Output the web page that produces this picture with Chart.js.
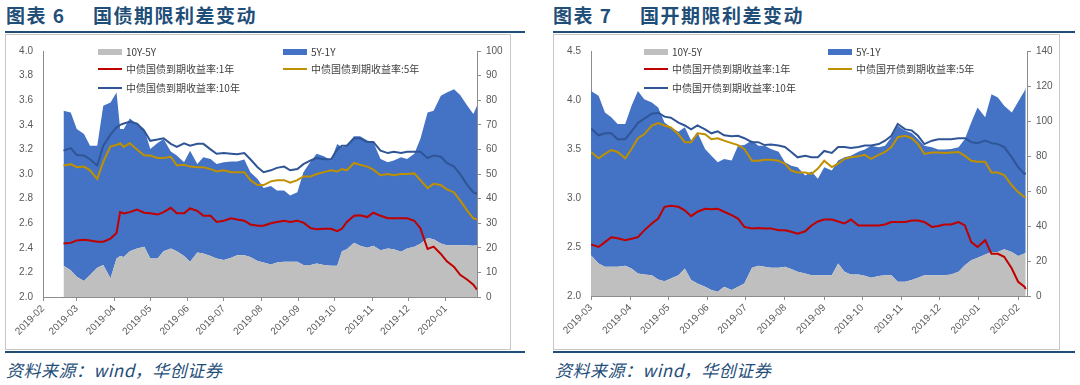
<!DOCTYPE html>
<html>
<head>
<meta charset="utf-8">
<script src="https://cdn.jsdelivr.net/npm/chart.js@4.4.1/dist/chart.umd.min.js"></script>
<style>
  html, body { margin: 0; padding: 0; background: #fff; }
  body { width: 1080px; height: 385px; position: relative; overflow: hidden;
         font-family: "Noto Sans CJK SC", sans-serif; }
  .title { position: absolute; top: 3px; font-size: 19px; font-weight: 700; color: #1F4E79;
           letter-spacing: 1.5px; white-space: nowrap; line-height: 24px; }
  .rule { position: absolute; height: 2px; background: #1F4E79; }
  .frame { position: absolute; border: 1px solid #C8C8C8; box-sizing: border-box; }
  canvas { position: absolute; }
  .lg { position: absolute; font-size: 10px; color: #404040; white-space: nowrap; line-height: 12px; }
  .sym { position: absolute; }
  .source { position: absolute; top: 357px; font-size: 17px; font-style: italic; color: #1F4E79;
            white-space: nowrap; letter-spacing: 0.5px; }
</style>
</head>
<body>

<div class="title" style="left:6px;">图表 6</div>
<div class="title" style="left:93px;">国债期限利差变动</div>
<div class="rule" style="left:5px; width:520px; top:31px;"></div>
<div class="frame" style="left:5px; top:34px; width:506px; height:316px;"></div>
<canvas id="chart-cgb" width="503" height="313" style="left:6px; top:35px;"></canvas>
<div class="rule" style="left:5px; width:520px; top:351px;"></div>
<div class="source" style="left:6px;">资料来源：wind，华创证券</div>

<div class="title" style="left:553px;">图表 7</div>
<div class="title" style="left:640px;">国开期限利差变动</div>
<div class="rule" style="left:553px; width:522px; top:31px;"></div>
<div class="frame" style="left:553px; top:34px; width:507px; height:316px;"></div>
<canvas id="chart-cdb" width="504" height="313" style="left:554px; top:35px;"></canvas>
<div class="rule" style="left:553px; width:522px; top:351px;"></div>
<div class="source" style="left:555px;">资料来源：wind，华创证券</div>

<div id="legends"></div>

<script>
// ─── Colours (Excel default palette) ───────────────────────────────────────
const GRAY = "#BFBFBF";
const BLUE = "#4472C4";
const RED = "#C00000";
const GOLD = "#BF9000";
const NAVY = "#2F5597";
const AXIS = "#8C8C8C";
const TICK_TEXT = "#595959";

// ─── 图表6 国债 ────────────────────────────────────────────────────────────
const cgbDates = [
  "2019-02-18","2019-02-24","2019-03-01","2019-03-07","2019-03-12","2019-03-18","2019-03-23","2019-03-29",
  "2019-04-03","2019-04-06","2019-04-09","2019-04-14","2019-04-20","2019-04-26","2019-05-01","2019-05-07",
  "2019-05-12","2019-05-18","2019-05-23","2019-05-29","2019-06-03","2019-06-09","2019-06-14","2019-06-20",
  "2019-06-25","2019-07-01","2019-07-07","2019-07-12","2019-07-18","2019-07-23","2019-07-29","2019-08-03",
  "2019-08-09","2019-08-14","2019-08-20","2019-08-25","2019-08-31","2019-09-05","2019-09-11","2019-09-16",
  "2019-09-22","2019-09-28","2019-10-03","2019-10-07","2019-10-11","2019-10-17","2019-10-22","2019-10-28",
  "2019-11-02","2019-11-08","2019-11-14","2019-11-19","2019-11-25","2019-11-30","2019-12-06","2019-12-11",
  "2019-12-17","2019-12-22","2019-12-28","2020-01-02","2020-01-08","2020-01-13","2020-01-19","2020-01-24",
  "2020-01-27"
];
const cgb10y = [
  3.19, 3.21, 3.155, 3.15, 3.12, 3.07, 3.23, 3.32, 3.38, 3.40, 3.41, 3.425, 3.41, 3.35, 3.27, 3.28,
  3.29, 3.245, 3.22, 3.25, 3.23, 3.245, 3.245, 3.20, 3.165, 3.17, 3.165, 3.16, 3.17, 3.12, 3.055, 3.015,
  3.03, 3.05, 3.06, 3.03, 3.04, 3.08, 3.11, 3.13, 3.12, 3.12, 3.20, 3.23, 3.23, 3.29, 3.29, 3.26,
  3.26, 3.19, 3.17, 3.18, 3.17, 3.18, 3.18, 3.18, 3.13, 3.15, 3.14, 3.09, 3.06, 3.00, 2.91, 2.85,
  2.84
];
const cgb5y = [
  3.07, 3.08, 3.055, 3.06, 3.03, 2.96, 3.10, 3.225, 3.235, 3.25, 3.22, 3.25, 3.20, 3.15, 3.15, 3.13,
  3.13, 3.14, 3.07, 3.075, 3.06, 3.055, 3.055, 3.04, 3.02, 3.03, 3.015, 3.015, 3.015, 2.95, 2.91, 2.91,
  2.94, 2.95, 2.95, 2.93, 2.95, 2.98, 2.98, 3.00, 3.015, 3.03, 3.02, 3.04, 3.03, 3.09, 3.075, 3.06,
  3.035, 2.99, 3.00, 2.99, 3.00, 3.00, 3.005, 2.95, 2.885, 2.92, 2.91, 2.875, 2.85, 2.785, 2.70, 2.64,
  2.63
];
const cgb1y = [
  2.435, 2.44, 2.46, 2.465, 2.46, 2.45, 2.45, 2.475, 2.52, 2.69, 2.68, 2.69, 2.71, 2.685, 2.68, 2.67,
  2.69, 2.725, 2.68, 2.68, 2.72, 2.70, 2.66, 2.66, 2.61, 2.62, 2.64, 2.63, 2.62, 2.59, 2.58, 2.58,
  2.60, 2.61, 2.62, 2.61, 2.62, 2.605, 2.56, 2.55, 2.555, 2.555, 2.535, 2.555, 2.61, 2.66, 2.665, 2.65,
  2.685, 2.66, 2.64, 2.64, 2.64, 2.64, 2.62, 2.56, 2.39, 2.41, 2.35, 2.29, 2.245, 2.18, 2.14, 2.10,
  2.06
];
const cgbSpread10y5y = [
  12.7, 10.9, 8.2, 6.5, 8.9, 11.9, 13.0, 7.6, 15.7, 16.7, 16.3, 18.6, 19.7, 20.4, 15.7, 15.7,
  18.6, 19.7, 18.6, 16.7, 14.3, 18.1, 17.7, 16.7, 15.7, 15.0, 16.0, 17.0, 17.0, 16.3, 14.6, 14.0,
  13.2, 14.0, 14.3, 14.3, 14.3, 13.0, 13.0, 13.6, 13.0, 12.7, 12.7, 18.6, 19.4, 22.1, 20.8, 20.0,
  20.8, 19.0, 19.7, 19.4, 18.4, 19.7, 20.4, 21.6, 24.0, 23.5, 21.7, 21.0, 21.0, 21.0, 21.0, 20.8,
  21.0
];
const cgbSpread5y1y = [
  63.0, 64.1, 60.1, 59.8, 52.6, 49.6, 64.7, 71.5, 67.4, 51.6, 52.0, 54.0, 50.6, 47.9, 44.5, 46.9,
  45.6, 39.4, 38.9, 38.1, 45.2, 36.0, 39.1, 39.4, 38.4, 39.8, 39.1, 38.1, 38.9, 34.4, 33.4, 30.3,
  31.9, 29.3, 29.0, 27.0, 28.3, 37.7, 42.1, 44.6, 44.2, 42.8, 49.5, 42.3, 42.1, 43.2, 44.5, 43.6,
  42.1, 37.1, 35.1, 36.1, 38.4, 36.4, 37.8, 42.6, 51.0, 52.2, 60.1, 62.1, 63.5, 61.1, 56.7, 53.6,
  56.7
];

// ─── 图表7 国开 ────────────────────────────────────────────────────────────
const cdbDates = [
  "2019-03-01","2019-03-07","2019-03-12","2019-03-17","2019-03-22","2019-03-28","2019-04-02","2019-04-07",
  "2019-04-12","2019-04-18","2019-04-23","2019-04-28","2019-05-03","2019-05-09","2019-05-14","2019-05-19",
  "2019-05-24","2019-05-30","2019-06-04","2019-06-09","2019-06-14","2019-06-20","2019-06-25","2019-06-30",
  "2019-07-06","2019-07-11","2019-07-16","2019-07-21","2019-07-27","2019-08-01","2019-08-06","2019-08-11",
  "2019-08-17","2019-08-22","2019-08-27","2019-09-01","2019-09-07","2019-09-12","2019-09-17","2019-09-22",
  "2019-09-28","2019-10-03","2019-10-08","2019-10-14","2019-10-19","2019-10-24","2019-10-29","2019-11-04",
  "2019-11-09","2019-11-14","2019-11-19","2019-11-25","2019-11-30","2019-12-05","2019-12-10","2019-12-16",
  "2019-12-21","2019-12-26","2019-12-31","2020-01-06","2020-01-11","2020-01-16","2020-01-21","2020-01-27",
  "2020-02-01","2020-02-06","2020-02-07"
];
const cdb10y = [
  3.71, 3.64, 3.66, 3.66, 3.60, 3.60, 3.68, 3.765, 3.81, 3.86, 3.87, 3.83, 3.82, 3.77, 3.74, 3.70,
  3.74, 3.70, 3.66, 3.68, 3.64, 3.63, 3.635, 3.61, 3.57, 3.57, 3.54, 3.545, 3.535, 3.52, 3.47, 3.415,
  3.43, 3.415, 3.415, 3.48, 3.46, 3.52, 3.52, 3.51, 3.52, 3.535, 3.535, 3.55, 3.585, 3.635, 3.755, 3.70,
  3.69, 3.635, 3.55, 3.585, 3.60, 3.60, 3.60, 3.61, 3.61, 3.57, 3.56, 3.585, 3.56, 3.55, 3.52, 3.415,
  3.315, 3.245, 3.255
];
const cdb5y = [
  3.47, 3.405, 3.45, 3.49, 3.47, 3.405, 3.50, 3.61, 3.65, 3.74, 3.765, 3.74, 3.72, 3.65, 3.57, 3.57,
  3.66, 3.65, 3.60, 3.61, 3.585, 3.56, 3.54, 3.50, 3.38, 3.38, 3.39, 3.39, 3.38, 3.35, 3.28, 3.26,
  3.26, 3.245, 3.30, 3.38, 3.315, 3.35, 3.40, 3.415, 3.425, 3.44, 3.40, 3.44, 3.47, 3.52, 3.62, 3.635,
  3.61, 3.55, 3.45, 3.465, 3.465, 3.46, 3.465, 3.47, 3.43, 3.38, 3.37, 3.37, 3.26, 3.26, 3.235, 3.13,
  3.06, 3.01, 3.01
];
const cdb1y = [
  2.525, 2.50, 2.55, 2.60, 2.59, 2.57, 2.585, 2.60, 2.67, 2.74, 2.79, 2.91, 2.92, 2.91, 2.875, 2.815,
  2.86, 2.89, 2.885, 2.89, 2.86, 2.825, 2.79, 2.705, 2.69, 2.695, 2.69, 2.69, 2.67, 2.67, 2.655, 2.635,
  2.66, 2.72, 2.76, 2.78, 2.78, 2.76, 2.74, 2.78, 2.72, 2.72, 2.72, 2.72, 2.73, 2.755, 2.755, 2.755,
  2.77, 2.77, 2.755, 2.705, 2.715, 2.73, 2.73, 2.755, 2.72, 2.55, 2.50, 2.57, 2.43, 2.43, 2.40, 2.28,
  2.145, 2.095, 2.07
];
const cdbSpread10y5y = [
  23.3, 18.6, 16.7, 16.7, 16.7, 17.3, 15.7, 12.9, 12.3, 11.9, 9.5, 8.5, 10.0, 11.9, 15.7, 9.1,
  7.2, 5.3, 3.4, 2.5, 5.3, 3.4, 5.3, 7.2, 16.1, 17.3, 16.7, 16.1, 16.1, 16.7, 15.4, 13.8,
  12.9, 11.9, 11.9, 11.9, 11.9, 18.6, 13.8, 12.3, 12.3, 11.6, 10.4, 11.4, 11.9, 11.9, 8.1, 8.1,
  9.1, 10.4, 11.9, 11.9, 11.9, 11.9, 12.3, 13.8, 17.6, 20.5, 21.8, 23.7, 25.2, 25.2, 26.7, 25.2,
  22.9, 24.3, 24.8
];
const cdbSpread5y1y = [
  93.9, 95.8, 88.2, 85.4, 81.6, 81.0, 93.0, 104.3, 100.2, 98.7, 98.2, 90.7, 86.4, 82.0, 80.7, 79.7,
  86.3, 78.7, 76.8, 73.9, 73.0, 74.0, 80.6, 79.1, 72.7, 68.6, 69.2, 67.9, 66.4, 59.7, 59.1, 59.8,
  56.0, 59.2, 55.1, 61.7, 59.8, 58.8, 65.5, 67.9, 70.2, 72.1, 75.5, 73.6, 74.0, 78.8, 89.2, 86.4,
  84.0, 79.3, 74.0, 73.1, 71.8, 71.8, 71.7, 71.2, 72.1, 78.7, 85.9, 78.4, 90.1, 88.2, 82.0, 79.7,
  88.1, 92.9, 94.3
];

// ─── Date helpers: x axis is in days since epoch, ticks on month starts ─────
const DAY = 86400000;
const toDay = (s) => {
  const [y, m, d] = s.split("-").map(Number);
  return Date.UTC(y, m - 1, d) / DAY;
};
function monthTicks(min, max) {
  const first = new Date(min * DAY);
  let y = first.getUTCFullYear();
  let m = first.getUTCMonth() + (first.getUTCDate() === 1 ? 0 : 1);
  const out = [];
  for (;;) {
    const v = Date.UTC(y, m, 1) / DAY;
    if (v > max + 0.01) break;
    out.push({ value: v });
    m++;
  }
  return out;
}
const monthLabel = (v) => {
  const d = new Date(v * DAY);
  return d.getUTCFullYear() + "-" + String(d.getUTCMonth() + 1).padStart(2, "0");
};

const TICK_FONT = { family: '"Liberation Sans", Arial, sans-serif', size: 10 };

function renderSpreadChart(id, cfg) {
  const pts = (vals) => cfg.dates.map((s, i) => ({ x: toDay(s), y: vals[i] }));
  const line = (label, vals, color) => ({
    label, data: pts(vals), yAxisID: "y", borderColor: color, backgroundColor: color,
    borderWidth: 2, fill: false, order: 0,
  });
  new Chart(document.getElementById(id), {
    type: "line",
    data: {
      datasets: [
        { label: "10Y-5Y", data: pts(cfg.s105), yAxisID: "y1", backgroundColor: GRAY,
          borderWidth: 0, fill: "origin", order: 2 },
        { label: "5Y-1Y", data: pts(cfg.s51), yAxisID: "y1", backgroundColor: BLUE,
          borderWidth: 0, fill: "-1", order: 2 },
        line(cfg.names[0], cfg.y1, RED),
        line(cfg.names[1], cfg.y5, GOLD),
        line(cfg.names[2], cfg.y10, NAVY),
      ],
    },
    options: {
      responsive: false, animation: false, events: [], devicePixelRatio: 1,
      layout: { padding: { top: 15, left: 0, right: 0, bottom: 0 } },
      elements: { point: { radius: 0 }, line: { tension: 0 } },
      plugins: { legend: { display: false }, tooltip: { enabled: false } },
      scales: {
        x: {
          type: "linear", bounds: "data",
          min: toDay(cfg.xMin), max: toDay(cfg.xMax),
          afterBuildTicks: (s) => { s.ticks = monthTicks(s.min, s.max); },
          afterFit: (s) => { s.height = cfg.xHeight; },
          grid: { drawOnChartArea: false, drawTicks: true, tickLength: 4, color: AXIS },
          border: { color: AXIS },
          ticks: { autoSkip: false, minRotation: 45, maxRotation: 45, padding: 2,
                   font: TICK_FONT, color: TICK_TEXT, callback: monthLabel },
        },
        y: {
          position: "left", min: cfg.leftMin, max: cfg.leftMax,
          afterFit: (s) => { s.width = 37; },
          grid: { display: false, drawTicks: false },
          border: { display: true, color: AXIS },
          ticks: { stepSize: cfg.leftStep, padding: 10, font: TICK_FONT, color: TICK_TEXT,
                   callback: (v) => v.toFixed(1) },
        },
        y1: {
          position: "right", stacked: true, min: 0, max: cfg.rightMax,
          afterFit: (s) => { s.width = cfg.rightWidth; },
          grid: { drawOnChartArea: false, drawTicks: true, tickLength: 4, color: AXIS },
          border: { display: true, color: AXIS },
          ticks: { stepSize: cfg.rightStep, padding: 5, font: TICK_FONT, color: TICK_TEXT },
        },
      },
    },
  });
}

renderSpreadChart("chart-cgb", {
  dates: cgbDates, y1: cgb1y, y5: cgb5y, y10: cgb10y, s105: cgbSpread10y5y, s51: cgbSpread5y1y,
  names: ["中债国债到期收益率:1年", "中债国债到期收益率:5年", "中债国债到期收益率:10年"],
  xMin: "2019-02-01", xMax: "2020-01-27", xHeight: 51,
  leftMin: 2, leftMax: 4, leftStep: 0.2, rightMax: 100, rightStep: 10, rightWidth: 32,
});
renderSpreadChart("chart-cdb", {
  dates: cdbDates, y1: cdb1y, y5: cdb5y, y10: cdb10y, s105: cdbSpread10y5y, s51: cdbSpread5y1y,
  names: ["中债国开债到期收益率:1年", "中债国开债到期收益率:5年", "中债国开债到期收益率:10年"],
  xMin: "2019-03-01", xMax: "2020-02-08", xHeight: 52,
  leftMin: 2, leftMax: 4.5, leftStep: 0.5, rightMax: 140, rightStep: 20, rightWidth: 31,
});

// ─── HTML legends laid over each plot (two columns, three rows) ────────────
function renderLegend(col1, col2, names) {
  const rows = [52, 69, 88];
  const items = [
    { x: col1, row: 0, kind: "box", color: GRAY, text: "10Y-5Y" },
    { x: col2, row: 0, kind: "box", color: BLUE, text: "5Y-1Y" },
    { x: col1, row: 1, kind: "line", color: RED, text: names[0] },
    { x: col2, row: 1, kind: "line", color: GOLD, text: names[1] },
    { x: col1, row: 2, kind: "line", color: NAVY, text: names[2] },
  ];
  const host = document.getElementById("legends");
  host.innerHTML += items.map(it => {
    const y = rows[it.row];
    const h = it.kind === "box" ? 6 : 2;
    return `<div class="sym" style="left:${it.x}px;top:${y - h / 2}px;width:24px;height:${h}px;background:${it.color}"></div>` +
           `<div class="lg" style="left:${it.x + 28}px;top:${y - 6}px">${it.text}</div>`;
  }).join("");
}
renderLegend(98, 283, ["中债国债到期收益率:1年", "中债国债到期收益率:5年", "中债国债到期收益率:10年"]);
renderLegend(644, 828, ["中债国开债到期收益率:1年", "中债国开债到期收益率:5年", "中债国开债到期收益率:10年"]);
</script>
</body>
</html>
